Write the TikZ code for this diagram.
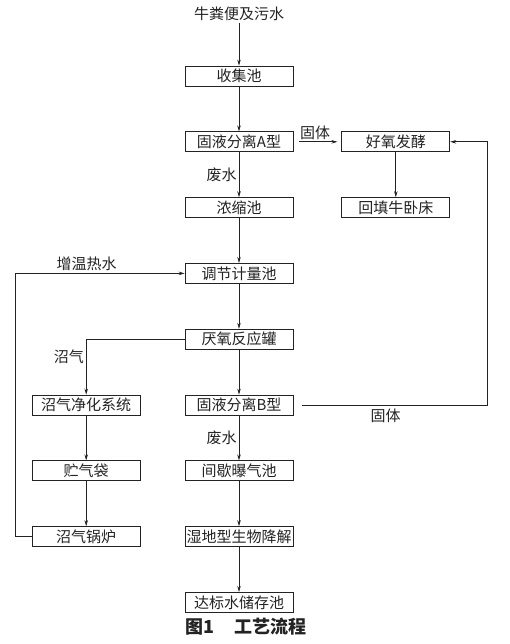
\documentclass[tikz,border=0pt]{standalone}
\usepackage{fontspec}
\setmainfont{Liberation Serif}
\newfontfamily\cjk{Noto Sans CJK SC}
\usetikzlibrary{arrows.meta, positioning}
\definecolor{mydark}{RGB}{35,35,35}
\tikzset{
  box/.style={rectangle, draw=mydark, fill=white,
    minimum width=108pt, minimum height=20pt, inner sep=0pt,
    font=\cjk\fontsize{15}{15}\selectfont, text=mydark, line width=0.8pt},
  lbl/.style={font=\cjk\fontsize{15}{15}\selectfont, text=mydark, inner sep=2pt},
  arrow/.style={-{Stealth[length=6pt,width=3.5pt]}, line width=0.7pt, color=mydark},
  line/.style={line width=0.7pt, color=mydark}
}

\begin{document}
\begin{tikzpicture}[x=1pt, y=-1pt, node distance=45pt]
  \useasboundingbox (0,0) rectangle (510,644);

  % main (right) column
  \node[lbl] (src) at (239,14) {牛粪便及污水};
  \node[box] (collect) at (239,76) {收集池};
  \node[box, below=of collect] (sepA) {固液分离A型};
  \node[box, below=of sepA] (thicken) {浓缩池};
  \node[box, below=of thicken] (regulate) {调节计量池};
  \node[box, below=of regulate] (anaer) {厌氧反应罐};
  \node[box, below=of anaer] (sepB) {固液分离B型};
  \node[box, below=of sepB] (aerate) {间歇曝气池};
  \node[box, below=of aerate] (wetland) {湿地型生物降解};
  \node[box, below=of wetland] (storage) {达标水储存池};

  % biogas (left) column
  \node[box, left=44pt of sepB] (purify) {沼气净化系统};
  \node[box, below=of purify] (gasbag) {贮气袋};
  \node[box, below=of gasbag] (boiler) {沼气锅炉};

  % solids
  \node[box, right=48pt of sepA] (ferment) {好氧发酵};
  \node[box, below=of ferment] (backfill) {回填牛卧床};

  \draw[arrow] (src) -- (collect);
  \draw[arrow] (collect) -- (sepA);
  \draw[arrow] (sepA) -- node[lbl, left]{废水} (thicken);
  \draw[arrow] (thicken) -- (regulate);
  \draw[arrow] (regulate) -- (anaer);
  \draw[arrow] (anaer) -- (sepB);
  \draw[arrow] (sepB) -- node[lbl, left]{废水} (aerate);
  \draw[arrow] (aerate) -- (wetland);
  \draw[arrow] (wetland) -- (storage);

  \draw[arrow, shorten <=6pt, shorten >=4pt] (sepA) -- node[lbl, above, pos=0.45]{固体} (ferment);
  \draw[arrow] (ferment) -- (backfill);
  \draw[arrow] ([xshift=9pt]sepB.east) -- node[lbl, below=2pt, pos=0.45]{固体} ++(185,0) |- (ferment.east);

  \draw[arrow] (anaer.west) -| node[lbl, left, pos=0.66]{沼气} (purify);
  \draw[arrow] (purify) -- (gasbag);
  \draw[arrow] (gasbag) -- (boiler);
  \draw[arrow] (boiler.west) -- ++(-16,0) |- node[lbl, above, pos=0.71]{增温热水} (regulate.west);

  \node[font=\cjk\bfseries\fontsize{18}{18}\selectfont, text=mydark] (caption) at (246,627) {图1\hspace{20pt}工艺流程};
\end{tikzpicture}
\end{document}
